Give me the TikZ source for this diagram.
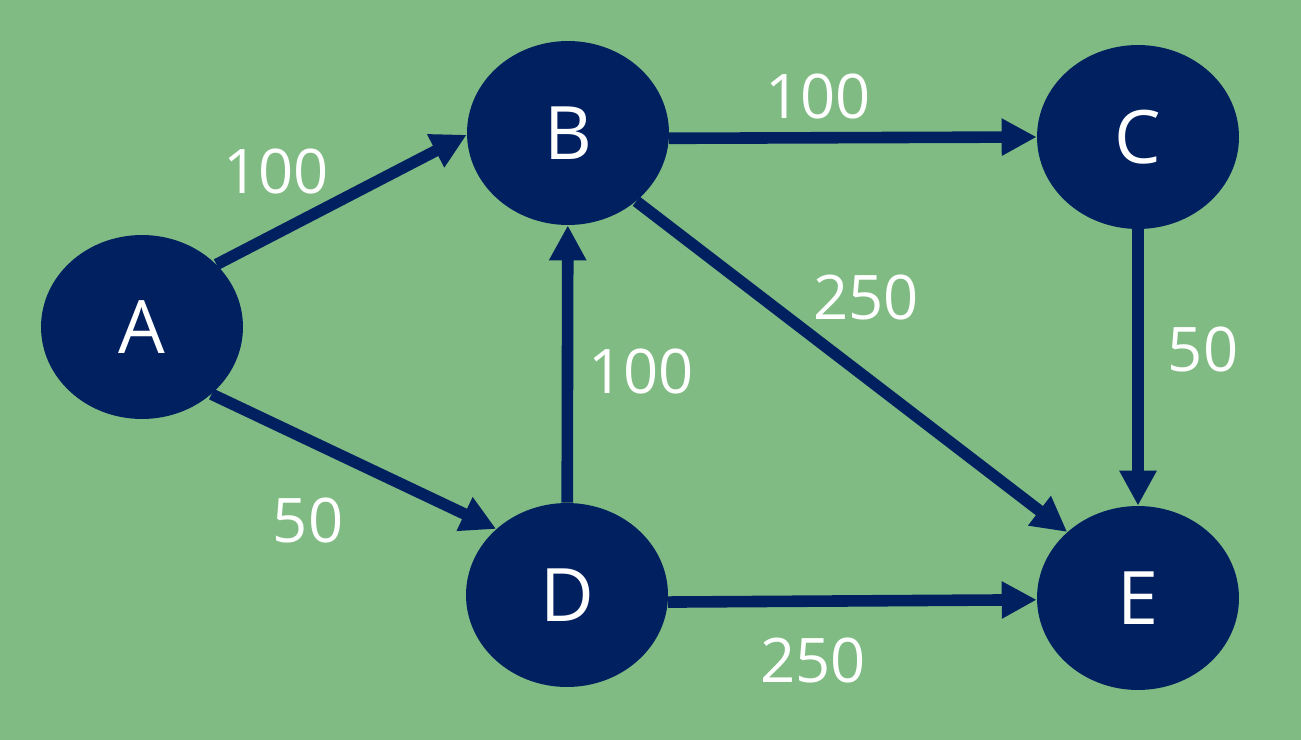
\documentclass[tikz,border=0pt]{standalone}
\usepackage{fontspec}
\setmainfont{Open Sans}
\usetikzlibrary{shapes.geometric,arrows.meta}
\definecolor{bggreen}{RGB}{127,187,131}
\definecolor{navy}{RGB}{0,32,96}
\tikzset{
  vertex/.style={ellipse, fill=navy, text=white, minimum width=4.04cm, minimum height=3.68cm, inner sep=0pt, font=\fontsize{42}{42}\selectfont},
  weight/.style={text=white, inner sep=0pt, font=\fontsize{35}{35}\selectfont},
  link/.style={draw=navy, line width=6.6pt, -{Triangle[length=0.7cm,width=0.7cm]}}
}
\begin{document}
\begin{tikzpicture}[x=0.02cm, y=-0.02cm]
  \fill[bggreen] (0,0) rectangle (1301,740);
  \useasboundingbox (0,0) rectangle (1301,740);
  \node[vertex] (A) at (142,327) {A};
  \node[vertex] (B) at (568,133) {B};
  \node[vertex] (C) at (1138,137) {C};
  \node[vertex] (D) at (567,595) {D};
  \node[vertex] (E) at (1138,598) {E};
  % Draw the weighted edges
  \draw[link] (A.40) -- (B.181);
  \draw[link] (A.-44) -- (D.137);
  \draw[link] (B.-3) -- (C.180);
  \draw[link] (B.-45) -- (E.137);
  \draw[link] (D) -- (B);
  \draw[link] (C) -- (E);
  \draw[link] (D.-4) -- (E.181);
  \node[weight] (wab) at (276,172) {100};
  \node[weight] (wbc) at (818,97) {100};
  \node[weight] (wbe) at (866,298) {250};
  \node[weight] (wce) at (1203,350) {50};
  \node[weight] (wdb) at (641,372) {100};
  \node[weight] (wad) at (308,521) {50};
  \node[weight] (wde) at (813,660) {250};
\end{tikzpicture}
\end{document}
